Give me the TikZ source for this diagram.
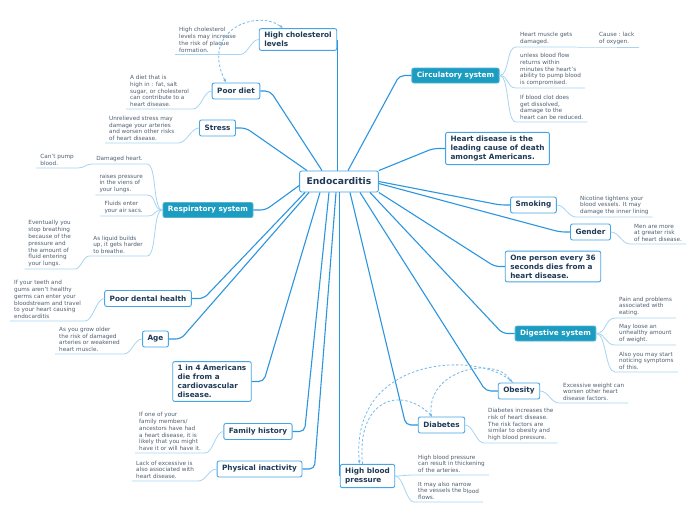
\documentclass[tikz,border=0pt]{standalone}
\usepackage{fontspec}
\setmainfont{DejaVu Sans}
\usetikzlibrary{arrows.meta}
\definecolor{linkblue}{HTML}{2B95DE}
\definecolor{boxblue}{HTML}{45A5E5}
\definecolor{tealfill}{HTML}{1C9CC1}
\definecolor{titletext}{HTML}{1E3A56}
\definecolor{notetext}{HTML}{4E5E70}
\definecolor{noteblue}{HTML}{A6D4F2}
\definecolor{relblue}{HTML}{72B8E8}

\begin{document}
\begin{tikzpicture}[x=1pt, y=-1pt,
    topic/.style={draw=boxblue, line width=0.9pt, fill=white, rounded corners=2pt, text=titletext,
      font=\bfseries\fontsize{7.3}{9}\selectfont, inner xsep=5pt, inner ysep=3.6pt, minimum height=16pt, align=left},
    filled/.style={topic, fill=tealfill, draw=tealfill!75!white, text=white, minimum height=15pt},
    central/.style={topic, font=\bfseries\fontsize{9.2}{11}\selectfont, inner xsep=7pt, minimum height=21pt},
    note/.style={font=\fontsize{5.7}{6.8}\selectfont, text=notetext, align=left, inner xsep=4pt, inner ysep=2pt},
    link/.style={draw=linkblue, line width=1.1pt, rounded corners=5pt},
    notelink/.style={draw=noteblue, line width=0.8pt},
    rel/.style={draw=relblue, line width=0.8pt, dash pattern=on 2.5pt off 2pt, -{Latex[length=3.5pt,width=3pt]}}]
\useasboundingbox (0,0) rectangle (696,520);

% main topic
\node[central] (endo) at (339,181.5) {Endocarditis};

% left branches
\node[topic] (chol) at (298,39.5) {High cholesterol\\levels};
\node[topic] (diet) at (236,91) {Poor diet};
\node[topic] (stress) at (217.5,128) {Stress};
\node[filled] (resp) at (208,210) {Respiratory system};
\node[topic] (dental) at (148,298.5) {Poor dental health};
\node[topic] (age) at (155.5,339) {Age};
\node[topic] (four) at (212,381.5) {1 in 4 Americans\\die from a\\cardiovascular\\disease.};
\node[topic] (family) at (258,431.5) {Family history};
\node[topic] (inact) at (259.5,469) {Physical inactivity};

% right branches
\node[filled] (circ) at (455.5,75.5) {Circulatory system};
\node[topic] (lead) at (497.5,148.5) {Heart disease is the\\leading cause of death\\amongst Americans.};
\node[topic] (smoke) at (533.5,205) {Smoking};
\node[topic] (gender) at (590.5,232) {Gender};
\node[topic] (every) at (553,266.5) {One person every 36\\seconds dies from a\\heart disease.};
\node[filled] (dig) at (555.5,333.5) {Digestive system};
\node[topic] (obes) at (519,391) {Obesity};
\node[topic] (dia) at (441.5,425) {Diabetes};
\node[topic] (hbp) at (367.5,476) {High blood\\pressure};

% connectors
\draw[link] (endo.north -| chol.east) -- (chol.east);
\draw[link] ([xshift=-17pt]endo.north) -- ([xshift=10pt]diet.east) -- (diet.east);
\draw[link] ([xshift=-32pt]endo.north) -- ([xshift=10pt]stress.east) -- (stress.east);
\draw[link] ([yshift=-4pt]endo.west) -- ([xshift=12pt]resp.east) -- (resp.east);
\draw[link] ([xshift=-34pt]endo.south) -- ([xshift=12pt]dental.east) -- (dental.east);
\draw[link] ([xshift=-30pt]endo.south) -- ([xshift=12pt]age.east) -- (age.east);
\draw[link] ([xshift=-19pt]endo.south) -- ([xshift=12pt]four.east) -- (four.east);
\draw[link] ([xshift=-10pt]endo.south) -- ([xshift=12pt]family.east) -- (family.east);
\draw[link] ([xshift=-3pt]endo.south) -- ([xshift=12pt]inact.east) -- (inact.east);
\draw[link] (endo.south -| hbp.west) -- (hbp.west);
\draw[link] ([xshift=11pt]endo.south) -- ([xshift=-12pt]dia.west) -- (dia.west);
\draw[link] ([xshift=21pt]endo.south) -- ([xshift=-12pt]obes.west) -- (obes.west);
\draw[link] ([xshift=31pt]endo.south) -- ([xshift=-12pt]dig.west) -- (dig.west);
\draw[link] (endo.south east) -- ([xshift=-10pt]every.west) -- (every.west);
\draw[link] ([yshift=-2pt]endo.east) -- ([xshift=-10pt]gender.west) -- (gender.west);
\draw[link] (endo.east) -- ([xshift=-10pt]smoke.west) -- (smoke.west);
\draw[link] (endo.north east) -- ([xshift=-12pt]lead.west) -- (lead.west);
\draw[link] ([xshift=9pt]endo.north) -- ([xshift=-12pt]circ.west) -- (circ.west);

% notes on the left
\node[note, anchor=south west] (cholnote) at (175,54.5) {High cholesterol\\levels may increase\\the risk of plaque\\formation.};
\node[note, anchor=south west] (dietnote) at (126,109) {A diet that is\\high in : fat, salt\\sugar, or cholesterol\\can contribute to a\\heart disease.};
\node[note, anchor=south west] (stressnote) at (105,143) {Unrelieved stress may\\damage your arteries\\and worsen other risks\\of heart disease.};
\node[note, anchor=south west] (dentalnote) at (10,321) {If your teeth and\\gums aren't healthy\\germs can enter your\\bloodstream and travel\\to your heart causing\\endocarditis};
\node[note, anchor=south west] (agenote) at (55,354) {As you grow older\\the risk of damaged\\arteries or weakened\\heart muscle.};
\node[note, anchor=south west] (familynote) at (135,453) {If one of your\\family members/\\ancestors have had\\a heart disease, it is\\ likely that you might\\have it or will have it.};
\node[note, anchor=south west] (inactnote) at (132,481) {Lack of excessive is\\also associated with\\heart disease.};
\foreach \n/\t in {cholnote/chol, dietnote/diet, stressnote/stress, dentalnote/dental, agenote/age, familynote/family, inactnote/inact}
  \draw[notelink] (\n.south west) -- (\n.south east) .. controls +(8,0) and +(-8,0) .. (\t.west);

% respiratory system
\node[note, anchor=south east] (dmg) at (147,164) {Damaged heart.};
\node[note, anchor=south east] (cant) at (78,168) {Can't pump\\blood.};
\node[note, anchor=south east] (raise) at (147,195) {raises pressure\\in the viens of\\your lungs.};
\node[note, anchor=south east] (fluid) at (147,216) {Fluids enter\\your air sacs.};
\node[note, anchor=south east] (liquid) at (147,256) {As liquid builds\\up, it gets harder\\to breathe.};
\node[note, anchor=south east] (event) at (75,269) {Eventually you\\stop breathing\\because of the\\pressure and\\the amount of\\fluid entering\\your lungs.};
\foreach \n in {dmg, raise, fluid, liquid}
  \draw[notelink] (resp.west) .. controls +(-10,0) and +(10,0) .. (\n.south east) -- (\n.south west);
\draw[notelink] (dmg.south west) .. controls +(-6,0) and +(6,0) .. (cant.south east) -- (cant.south west);
\draw[notelink] (liquid.south west) .. controls +(-6,0) and +(6,0) .. (event.south east) -- (event.south west);

% circulatory system
\node[note, anchor=south west] (c1) at (516,47) {Heart muscle gets\\damaged.};
\node[note, anchor=south west] (c1g) at (595,47) {Cause : lack\\of oxygen.};
\node[note, anchor=south west] (c2) at (516,88) {unless blood flow\\returns within\\minutes the heart's\\ability to pump blood\\is compromised.};
\node[note, anchor=south west] (c3) at (516,122) {If blood clot does\\get dissolved,\\damage to the\\heart can be reduced.};
\foreach \n in {c1, c2, c3}
  \draw[notelink] (circ.east) .. controls +(10,0) and +(-10,0) .. (\n.south west) -- (\n.south east);
\draw[notelink] (c1.south east) -- (c1g.south west) -- (c1g.south east);

% digestive system
\node[note, anchor=south west] (dig1) at (615,318) {Pain and problems\\associated with\\eating.};
\node[note, anchor=south west] (dig2) at (615,345) {May loose an\\unhealthy amount\\of weight.};
\node[note, anchor=south west] (dig3) at (615,372) {Also you may start\\noticing symptoms\\of this.};
\foreach \n in {dig1, dig2, dig3}
  \draw[notelink] (dig.east) .. controls +(10,0) and +(-10,0) .. (\n.south west) -- (\n.south east);

% other notes on the right
\node[note, anchor=south west] (smokenote) at (576,217) {Nicotine tightens your\\blood vessels. It may\\damage the inner lining};
\node[note, anchor=south west] (gendernote) at (630,244) {Men are more\\at greater risk\\of heart disease.};
\node[note, anchor=south west] (obesnote) at (559,403) {Excessive weight can\\worsen other heart\\disease factors.};
\node[note, anchor=south west] (dianote) at (484,443) {Diabetes increases the\\risk of heart disease.\\The risk factors are\\similar to obesity and\\high blood pressure.};
\node[note, anchor=south west] (hbp1) at (414,475) {High blood pressure\\can result in thickening\\of the arteries.};
\node[note, anchor=south west] (hbp2) at (414,502) {It may also narrow\\the vessels the b\raisebox{-0.8pt}{lood}\\flows.};
\foreach \n/\t in {smokenote/smoke, gendernote/gender, obesnote/obes, dianote/dia, hbp1/hbp, hbp2/hbp}
  \draw[notelink] (\t.east) .. controls +(8,0) and +(-8,0) .. (\n.south west) -- (\n.south east);

% relationships
\draw[rel, {Latex[length=3.5pt,width=3pt]}-{Latex[length=3.5pt,width=3pt]}] ([xshift=-10pt]diet.north) .. controls +(-26,-53) and +(-25,-19) .. ([xshift=-15pt]chol.north);
\draw[rel] ([xshift=-6pt]obes.north) .. controls (480,350) and (350,355) .. ([xshift=-8pt]hbp.north);
\draw[rel] ([xshift=-10pt]dia.north) .. controls (424,370) and (495,355) .. ([xshift=-7pt]obes.north);
\draw[rel] ([xshift=-5pt]hbp.north) .. controls (356,400) and (400,385) .. ([xshift=-9pt]dia.north);
\end{tikzpicture}
\end{document}
